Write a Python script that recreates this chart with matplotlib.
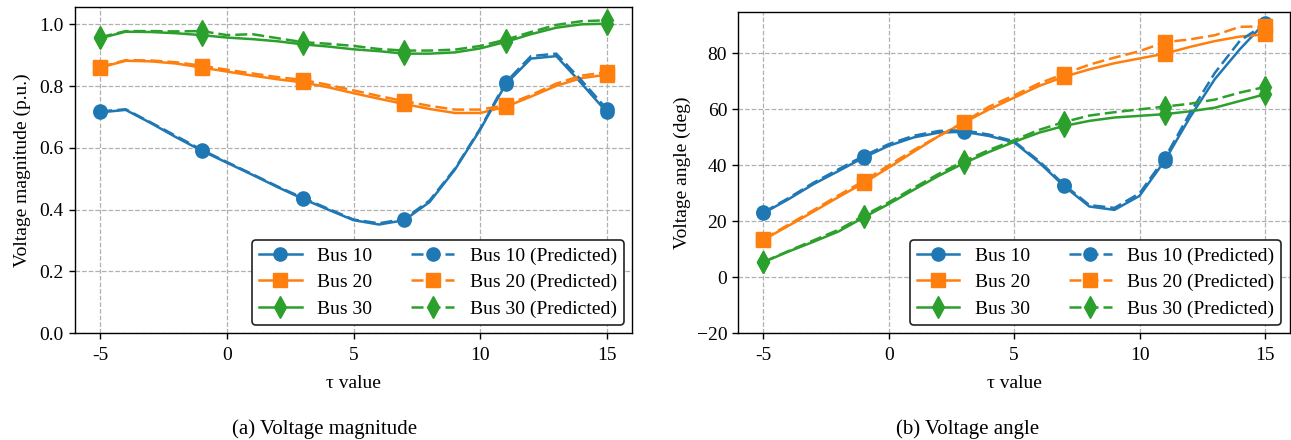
import matplotlib
matplotlib.use("Agg")
import matplotlib.pyplot as plt

plt.rcParams['font.family'] = ['Liberation Serif', 'DejaVu Serif']
plt.rcParams['font.size'] = 14

# ---- data ----
tau = [-5, -4, -3, -2, -1, 0, 1, 2, 3, 4, 5, 6, 7, 8, 9, 10, 11, 12, 13, 14, 15]
xtick_vals = [-5, 0, 5, 10, 15]
xtick_labels = ["-5", "0", "5", "10", "15"]

mag_bus10 = [0.715, 0.723, 0.680, 0.634, 0.591, 0.552, 0.513, 0.473, 0.435, 0.400, 0.366,
             0.352, 0.366, 0.425, 0.530, 0.660, 0.806, 0.889, 0.897, 0.808, 0.715]
mag_bus10_pred = [0.718, 0.725, 0.682, 0.638, 0.594, 0.554, 0.515, 0.475, 0.438, 0.403, 0.368,
                  0.356, 0.370, 0.430, 0.533, 0.663, 0.812, 0.897, 0.905, 0.818, 0.725]
mag_bus20 = [0.860, 0.882, 0.880, 0.873, 0.860, 0.847, 0.834, 0.822, 0.812, 0.796, 0.777,
             0.759, 0.742, 0.726, 0.713, 0.713, 0.733, 0.766, 0.801, 0.826, 0.837]
mag_bus20_pred = [0.862, 0.884, 0.883, 0.877, 0.866, 0.853, 0.841, 0.829, 0.820, 0.804, 0.786,
                  0.768, 0.751, 0.736, 0.724, 0.724, 0.738, 0.771, 0.808, 0.834, 0.845]
mag_bus30 = [0.955, 0.976, 0.975, 0.971, 0.965, 0.957, 0.952, 0.945, 0.935, 0.928, 0.919,
             0.913, 0.905, 0.905, 0.909, 0.922, 0.943, 0.968, 0.989, 1.000, 1.002]
mag_bus30_pred = [0.958, 0.978, 0.978, 0.977, 0.978, 0.965, 0.968, 0.955, 0.942, 0.937, 0.930,
                  0.920, 0.915, 0.915, 0.918, 0.930, 0.950, 0.975, 0.998, 1.010, 1.013]

ang_bus10 = [22.9, 27.9, 33.3, 38.0, 42.8, 47.0, 50.0, 51.7, 52.0, 50.5, 48.2,
             41.0, 32.5, 25.3, 24.1, 29.1, 41.6, 57.0, 70.8, 81.5, 91.0]
ang_bus10_pred = [23.2, 28.3, 33.8, 38.6, 43.4, 47.6, 50.6, 52.3, 52.5, 51.0, 48.6,
                  41.5, 33.0, 25.8, 24.8, 30.0, 42.5, 58.5, 73.0, 84.5, 90.5]
ang_bus20 = [13.4, 18.4, 23.5, 28.7, 33.7, 39.2, 44.9, 50.5, 55.3, 60.0, 64.2,
             68.4, 71.7, 74.3, 76.5, 78.2, 79.9, 82.3, 84.4, 86.0, 86.8]
ang_bus20_pred = [13.6, 18.8, 24.0, 29.3, 34.4, 40.0, 45.5, 50.5, 55.5, 61.0, 65.0,
                  69.3, 72.7, 76.0, 78.5, 80.8, 84.0, 85.0, 86.5, 89.5, 89.7]
ang_bus30 = [5.4, 9.2, 12.7, 16.4, 21.4, 26.2, 31.3, 36.3, 40.8, 44.8, 48.4,
             51.7, 54.1, 55.9, 57.1, 57.7, 58.3, 59.3, 60.6, 63.0, 65.4]
ang_bus30_pred = [5.5, 9.4, 13.2, 17.0, 22.0, 26.8, 32.0, 37.0, 41.5, 45.5, 49.0,
                  52.7, 55.5, 57.8, 59.0, 60.0, 61.0, 62.0, 63.5, 66.0, 68.0]

labels = ["Bus 10", "Bus 20", "Bus 30"]
colors = ["#1f77b4", "#ff7f0e", "#2ca02c"]
markers = ["o", "s", "d"]
msizes = [9.5, 9.5, 11]

fig = plt.figure(figsize=(12.91, 4.40), dpi=100)
ax1 = fig.add_axes([75 / 1291, 1 - 333.3 / 440, 557.3 / 1291, 326.0 / 440])
ax2 = fig.add_axes([738.3 / 1291, 1 - 333.3 / 440, 551.7 / 1291, 321.3 / 440])


def draw(ax, actual, pred):
    handles = []
    for i in range(3):
        h, = ax.plot(tau, actual[i], color=colors[i], marker=markers[i], ms=msizes[i],
                     markevery=4, lw=1.8, label=labels[i])
        handles.append(h)
    for i in range(3):
        h, = ax.plot(tau, pred[i], color=colors[i], marker=markers[i], ms=msizes[i],
                     markevery=4, lw=1.8, ls=(0, (4.8, 2.0)), label=labels[i] + " (Predicted)")
        handles.append(h)
    ax.grid(True, color="#b0b0b0", ls="--", lw=0.9)
    ax.set_axisbelow(True)
    ax.set_xlim(-6, 16)
    ax.set_xticks(xtick_vals)
    ax.set_xticklabels(xtick_labels)
    ax.set_xlabel("τ value", fontsize=14, labelpad=8)
    ax.tick_params(labelsize=14, width=1.0, length=4.5)
    ax.tick_params(axis="x", pad=5.5)
    for s in ax.spines.values():
        s.set_linewidth(1.0)
    leg = ax.legend(handles=handles, loc="lower right", ncol=2, fontsize=14,
                    framealpha=1, edgecolor="#222222", fancybox=True,
                    borderaxespad=0.45, columnspacing=2.0, handlelength=2.2,
                    handletextpad=0.8, labelspacing=0.45, borderpad=0.35)
    leg.get_frame().set_linewidth(1.2)


draw(ax1, [mag_bus10, mag_bus20, mag_bus30], [mag_bus10_pred, mag_bus20_pred, mag_bus30_pred])
ax1.set_ylim(0, 1.055)
ax1.set_yticks([0.0, 0.2, 0.4, 0.6, 0.8, 1.0])
ax1.set_ylabel("Voltage magnitude (p.u.)", fontsize=14, labelpad=6)

draw(ax2, [ang_bus10, ang_bus20, ang_bus30], [ang_bus10_pred, ang_bus20_pred, ang_bus30_pred])
ax2.set_ylim(-20, 94.8)
ax2.set_yticks([-20, 0, 20, 40, 60, 80])
ax2.set_ylabel("Voltage angle (deg)", fontsize=14)

fig.text(325 / 1291, 1 - 429 / 440, "(a) Voltage magnitude", ha="center", va="center", fontsize=15)
fig.text(968 / 1291, 1 - 429 / 440, "(b) Voltage angle", ha="center", va="center", fontsize=15)

fig.savefig("out.png", dpi=100)
